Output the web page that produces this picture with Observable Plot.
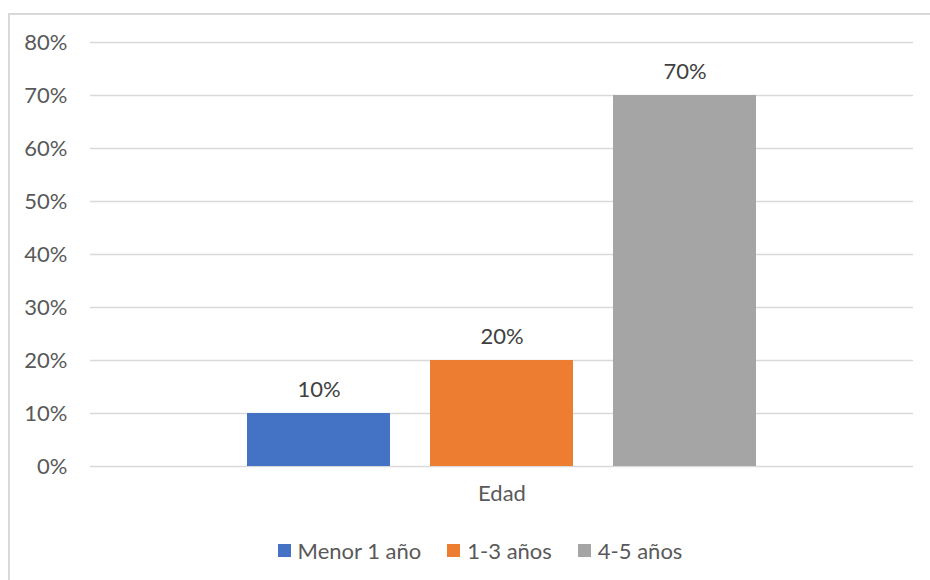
<!DOCTYPE html>
<html>
<head>
<meta charset="utf-8">
<script src="https://cdn.jsdelivr.net/npm/d3@7"></script>
<script src="https://cdn.jsdelivr.net/npm/@observablehq/plot@0.6"></script>
<style>
  html, body { margin: 0; padding: 0; background: #fff; }
  #wrap { position: relative; width: 930px; height: 580px; overflow: hidden; font-family: Lato, "Noto Sans", sans-serif; }
  #frame { position: absolute; left: 8px; top: 13px; width: 1000px; height: 700px;
           border-left: 2px solid #d9d9d9; border-top: 2px solid #d9d9d9; pointer-events: none; }
  #legend { display: flex; justify-content: center; align-items: center; height: 44px; padding-left: 30px; }
  #legend .item { display: inline-flex; align-items: center; margin: 0 13px; font-size: 22px; color: #595959; }
  #legend .sw { width: 13px; height: 13px; margin-right: 7px; }
</style>
</head>
<body>
<div id="wrap">
  <div id="chart"></div>
  <div id="legend"></div>
  <div id="frame"></div>
</div>
<script>
// Share of cases by age group
const categories = ["Edad"];
const series = ["Menor 1 año", "1-3 años", "4-5 años"];
const values = [0.10, 0.20, 0.70];
const colors = ["#4472C4", "#ED7D31", "#A5A5A5"];
const yTicks = [0, 0.1, 0.2, 0.3, 0.4, 0.5, 0.6, 0.7, 0.8];

const rows = series.map((s, i) => ({serie: s, value: values[i]}));
const pct = d3.format(".0%");

const chart = Plot.plot({
  width: 930,
  height: 528,
  marginTop: 42,
  marginBottom: 62,
  marginLeft: 90,
  marginRight: 17,
  style: {fontFamily: "Lato, 'Noto Sans', sans-serif", fontSize: "22px", color: "#595959", background: "transparent"},
  x: {domain: series, range: [247, 756], paddingInner: 40 / 183, paddingOuter: 0, axis: null},
  y: {domain: [0, 0.8], ticks: yTicks, tickFormat: pct, tickSize: 0, tickPadding: 23, label: null},
  color: {domain: series, range: colors},
  marks: [
    Plot.gridY(yTicks, {stroke: "#d9d9d9", strokeOpacity: 1, strokeWidth: 1.5}),
    Plot.barY(rows, {x: "serie", y: "value", fill: "serie"}),
    Plot.text(rows, {x: "serie", y: "value", text: d => pct(d.value), dy: -24, fill: "#404040", fontSize: 22}),
    Plot.text(categories, {frameAnchor: "bottom", dy: 34, text: d => d, fill: "#595959", fontSize: 22})
  ]
});
document.getElementById("chart").appendChild(chart);

const legend = document.getElementById("legend");
series.forEach((s, i) => {
  const item = document.createElement("span");
  item.className = "item";
  const sw = document.createElement("span");
  sw.className = "sw";
  sw.style.background = chart.scale("color").apply(s);
  item.appendChild(sw);
  item.appendChild(document.createTextNode(s));
  legend.appendChild(item);
});
</script>
</body>
</html>
